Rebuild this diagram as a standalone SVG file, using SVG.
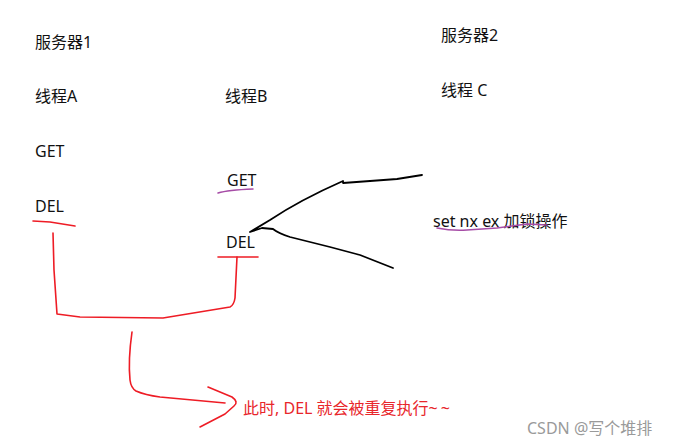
<svg xmlns="http://www.w3.org/2000/svg" width="678" height="446" viewBox="0 0 678 446">
<style>
text{font-family:"Noto Sans","Noto Sans CJK SC",sans-serif;font-size:16px;fill:#111}
.red{fill:#e8262b}
.wm{fill:#9a9a9a;font-size:16px}
.s{fill:none;stroke-linecap:round;stroke-linejoin:round}
.r{stroke:#ee1c25;stroke-width:1.6}
.k{stroke:#000;stroke-width:1.8}
.p{stroke:#a64ca6;stroke-width:1.5}
</style>
<rect width="678" height="446" fill="#fff"/>
<g id="server1"><text x="35" y="48">服务器1</text></g>
<g id="threadA"><text x="35" y="102">线程A</text></g>
<g id="getA"><text x="35" y="157">GET</text></g>
<g id="delA"><text x="35" y="212">DEL</text></g>
<g id="threadB"><text x="225" y="102">线程B</text></g>
<g id="getB"><text x="227" y="186">GET</text></g>
<g id="delB"><text x="226" y="248">DEL</text></g>
<g id="server2"><text x="441" y="41">服务器2</text></g>
<g id="threadC"><text x="441" y="96">线程 C</text></g>
<g id="setnx"><text x="433" y="227">set nx ex 加锁操作</text></g>
<g id="note"><text class="red" x="243" y="414">此时, DEL 就会被重复执行<tspan letter-spacing="3">~~</tspan></text></g>
<g id="watermark"><text class="wm" x="527" y="434">CSDN @写个堆排</text></g>
<g id="connectors">
<path class="s r" d="M33 221 L50 222 L75 226"/>
<path class="s r" d="M218 257 L258 257"/>
<path class="s p" d="M218 193 Q228 190 253 189"/>
<path class="s p" d="M437 228 Q452 231 467 230 Q482 229 497 228 Q512 226 527 224 L547 225"/>
<path class="s r" d="M53 233 L54 270 L57 314 L80 317 L163 318 L230 307 Q234 305 235 298 L237 257"/>
<path class="s r" d="M132 332 Q128 360 130 380 Q131 388 136 391 Q145 395 160 397 L225 403"/>
<path class="s r" d="M208 387 L232 397 Q239 402 234 406 L225 414 L200 427"/>
<path class="s k" d="M422 175 L397 179 L343 183 L343 181 Q300 200 270 220 L250 232 L262 228 L273 229 Q278 233 290 237 L330 247 L360 255 L393 268"/>
</g>
</svg>
